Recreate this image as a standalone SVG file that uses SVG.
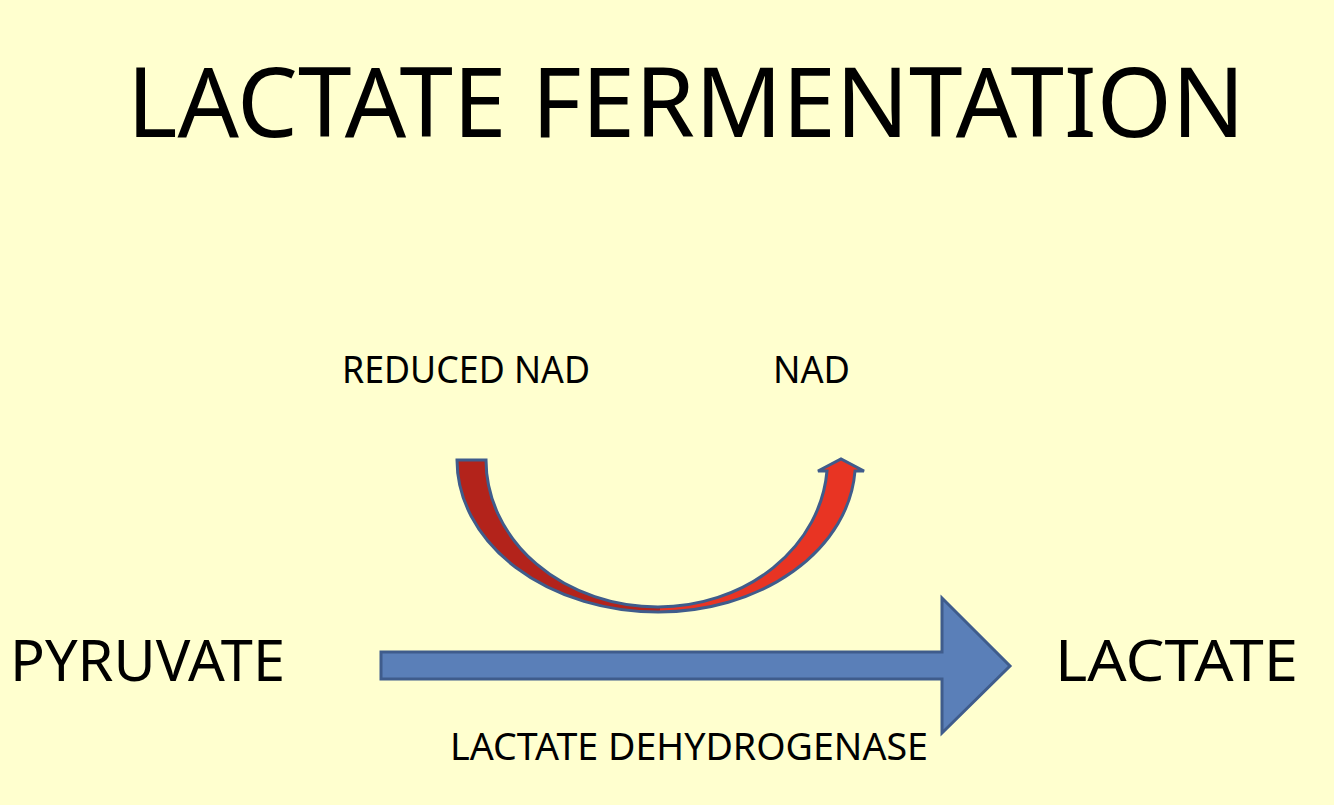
<svg xmlns="http://www.w3.org/2000/svg" width="1334" height="805" viewBox="0 0 1334 805">
<style>
  text { font-family: "Noto Sans", "DejaVu Sans", sans-serif; fill: #000; }
  .title { font-size: 97px; }
  .lbl { font-size: 39px; }
  .big { font-size: 57px; }
  .arrow { stroke: #3f5c8c; stroke-width: 3; stroke-linejoin: miter; }
</style>
<defs>
  <linearGradient id="redSplit" gradientUnits="userSpaceOnUse" x1="457" y1="0" x2="864" y2="0">
    <stop offset="0" stop-color="#b3231b"/>
    <stop offset="0.5" stop-color="#b3231b"/>
    <stop offset="0.5" stop-color="#e83423"/>
    <stop offset="1" stop-color="#e83423"/>
  </linearGradient>
</defs>
<rect x="0" y="0" width="1334" height="805" fill="#ffffcf"/>

<g id="title">
  <text class="title" x="127" y="137" textLength="1118" lengthAdjust="spacingAndGlyphs">LACTATE FERMENTATION</text>
</g>

<g id="reduced-nad">
  <text class="lbl" x="342" y="383" textLength="248" lengthAdjust="spacingAndGlyphs">REDUCED NAD</text>
</g>
<g id="nad">
  <text class="lbl" x="773" y="383" textLength="77" lengthAdjust="spacingAndGlyphs">NAD</text>
</g>
<g id="pyruvate">
  <text class="big" x="10" y="681" textLength="275" lengthAdjust="spacingAndGlyphs">PYRUVATE</text>
</g>
<g id="lactate">
  <text class="big" x="1055" y="681" textLength="243" lengthAdjust="spacingAndGlyphs">LACTATE</text>
</g>
<g id="enzyme">
  <text class="lbl" x="450" y="760" textLength="478" lengthAdjust="spacingAndGlyphs">LACTATE DEHYDROGENASE</text>
</g>

<g id="connectors">
  <path class="arrow" fill="url(#redSplit)" d="M457,460 A201,152 0 0 0 658,612 A197,150 0 0 0 855,471 L864,471 L841,459 L818,471 L827,471 A170,147 0 0 1 658,607 A172,147 0 0 1 486,460 Z"/>
  <path class="arrow" fill="#5a7fb8" d="M381,652 L942,652 L942,598 L1010,666 L942,733 L942,679 L381,679 Z"/>
</g>
</svg>
